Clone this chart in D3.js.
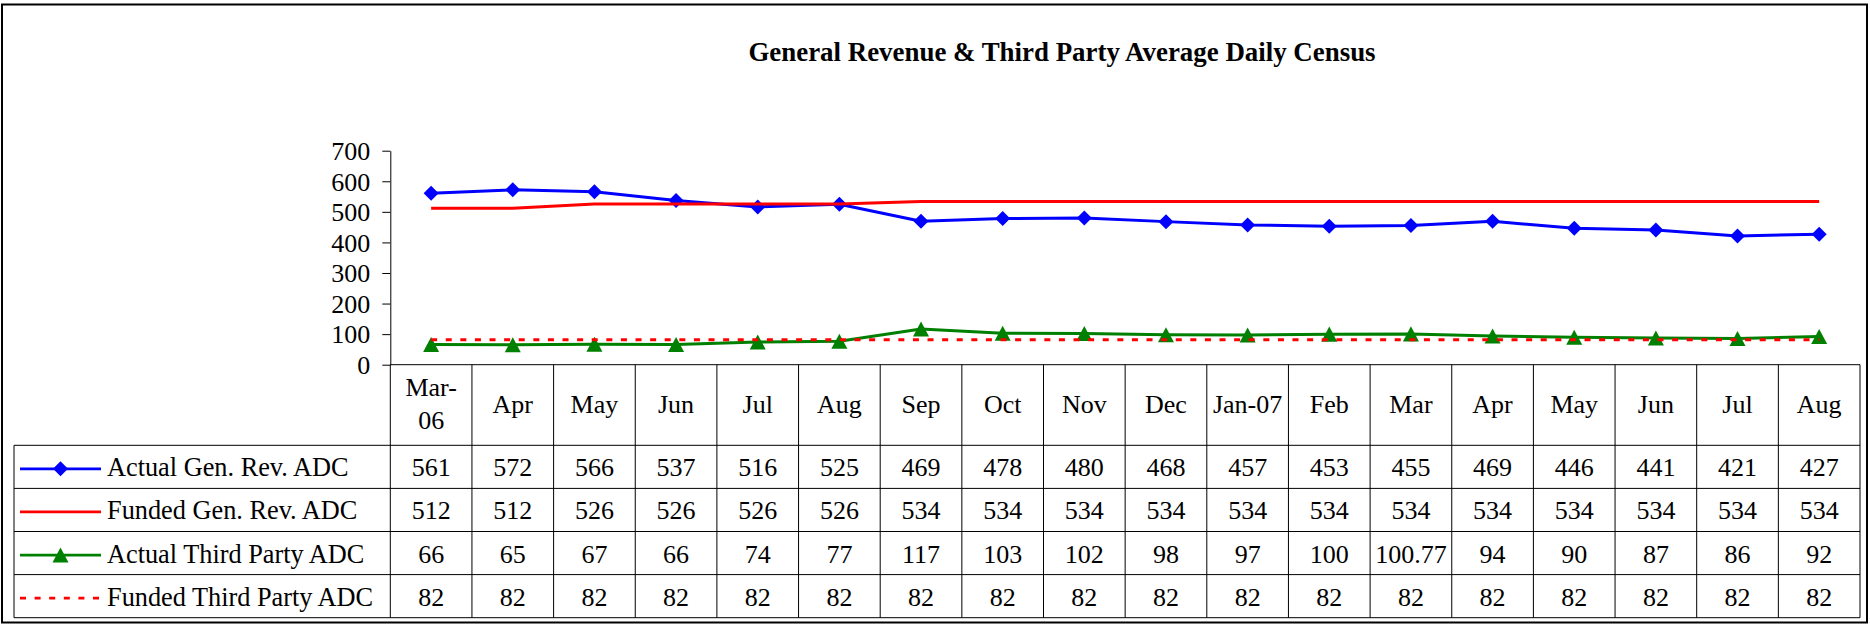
<!DOCTYPE html>
<html><head><meta charset="utf-8">
<script src="https://cdn.jsdelivr.net/npm/d3@7"></script>
<style>
body{margin:0;background:#fff}
svg{display:block}
text{font-family:"Liberation Serif","Times New Roman",serif;fill:#000}
</style>
</head><body>
<svg id="c" width="1870" height="624"></svg>
<script>
// ---- data ----
const chartTitle = "General Revenue & Third Party Average Daily Census";
const categories = ["Mar-06","Apr","May","Jun","Jul","Aug","Sep","Oct","Nov","Dec","Jan-07","Feb","Mar","Apr","May","Jun","Jul","Aug"];
const seriesNames = ["Actual Gen. Rev. ADC","Funded Gen. Rev. ADC","Actual Third Party ADC","Funded Third Party ADC"];
const actualGenRev = [561,572,566,537,516,525,469,478,480,468,457,453,455,469,446,441,421,427];
const fundedGenRev = [512,512,526,526,526,526,534,534,534,534,534,534,534,534,534,534,534,534];
const actualThirdParty = [66,65,67,66,74,77,117,103,102,98,97,100,100.77,94,90,87,86,92];
const fundedThirdParty = [82,82,82,82,82,82,82,82,82,82,82,82,82,82,82,82,82,82];
const yTickValues = [0,100,200,300,400,500,600,700];

const seriesData = [actualGenRev, fundedGenRev, actualThirdParty, fundedThirdParty];
const seriesColor = ["#0000ff","#ff0000","#008000","#ff0000"];
const seriesDash = [null, null, null, "6,8.6"];
const seriesMarker = ["diamond", null, "triangle", null];

// ---- layout ----
const svg = d3.select("#c");
const plotLeft = 390.3, plotRight = 1860, yTop = 150.7, yBot = 364.7;
const headerBot = 445.3, tableBot = 617.7, legendLeft = 14;

svg.append("rect").attr("x",2).attr("y",4.5).attr("width",1865).attr("height",618)
  .attr("fill","#fff").attr("stroke","#000").attr("stroke-width",2);

svg.append("text").attr("x",1062).attr("y",61).attr("text-anchor","middle")
  .style("font-size","26.9px").style("font-weight","bold").text(chartTitle);

const x = d3.scaleBand().domain(d3.range(categories.length)).range([plotLeft, plotRight]);
const y = d3.scaleLinear().domain([0,700]).range([yBot, yTop]);
const rowY = d3.scaleBand().domain(d3.range(seriesNames.length)).range([headerBot, tableBot]);
const cx = i => x(i) + x.bandwidth()/2;

// y axis
const yAxis = d3.axisLeft(y).tickValues(yTickValues).tickSize(8).tickSizeOuter(0).tickPadding(12);
const ga = svg.append("g").attr("transform",`translate(${plotLeft},0)`).call(yAxis);
ga.selectAll("text").style("font-size","26px").attr("dy","0.34em");
ga.selectAll("line,path").attr("stroke","#000").attr("stroke-width",1);
ga.attr("font-family",null).attr("font-size",null);

// table grid
const grid = svg.append("g").attr("stroke","#000").attr("stroke-width",1).attr("fill","none");
grid.append("line").attr("x1",plotLeft).attr("x2",plotRight).attr("y1",yBot).attr("y2",yBot);
[headerBot, ...rowY.domain().map(i => rowY(i) + rowY.bandwidth())].forEach(v => {
  grid.append("line").attr("x1",legendLeft).attr("x2",plotRight).attr("y1",v).attr("y2",v);
});
grid.append("line").attr("x1",plotLeft).attr("x2",plotLeft).attr("y1",yBot).attr("y2",tableBot);
x.domain().forEach(i => {
  const xr = x(i) + x.bandwidth();
  grid.append("line").attr("x1",xr).attr("x2",xr).attr("y1",yBot).attr("y2",tableBot);
});
grid.append("line").attr("x1",legendLeft).attr("x2",legendLeft).attr("y1",headerBot).attr("y2",tableBot);

// header labels
const headerMid = (yBot + headerBot)/2;
categories.forEach((c,i) => {
  const t = svg.append("text").attr("text-anchor","middle").style("font-size","26px")
    .attr("x",cx(i)).attr("y",headerMid + 8).text(c);
  if (t.node().getComputedTextLength() > x.bandwidth() - 6 && c.includes("-")) {
    const k = c.indexOf("-") + 1;
    t.text(null);
    t.append("tspan").attr("x",cx(i)).attr("y",headerMid - 9).text(c.slice(0,k));
    t.append("tspan").attr("x",cx(i)).attr("y",headerMid + 23.7).text(c.slice(k));
  }
});

// markers
const diamondType = {draw(ctx,size){const r=Math.sqrt(size)/2;ctx.moveTo(0,-r);ctx.lineTo(r,0);ctx.lineTo(0,r);ctx.lineTo(-r,0);ctx.closePath();}};
const triangleType = {draw(ctx,size){const w=Math.sqrt(size);const h=w*0.94;ctx.moveTo(0,-h/2);ctx.lineTo(w/2,h/2);ctx.lineTo(-w/2,h/2);ctx.closePath();}};
const markerPath = {
  diamond: d3.symbol().type(diamondType).size(15*15),
  triangle: d3.symbol().type(triangleType).size(16*16)
};

// series
const line = d3.line().x((d,i) => cx(i)).y(d => y(d));
seriesData.forEach((data,s) => {
  const g = svg.append("g");
  g.append("path").datum(data).attr("d",line).attr("fill","none")
    .attr("stroke",seriesColor[s]).attr("stroke-width",3)
    .attr("stroke-dasharray",seriesDash[s]).attr("stroke-linejoin","round");
  if (seriesMarker[s]) {
    g.selectAll("path.m").data(data).join("path").attr("class","m")
      .attr("transform",(d,i) => `translate(${cx(i)},${y(d)})`)
      .attr("d",markerPath[seriesMarker[s]]()).attr("fill",seriesColor[s]);
  }
});

// legend + values
seriesNames.forEach((name,s) => {
  const rc = rowY(s) + rowY.bandwidth()/2;
  const ly = rc + 2;
  svg.append("line").attr("x1",20).attr("x2",101).attr("y1",ly).attr("y2",ly)
    .attr("stroke",seriesColor[s]).attr("stroke-width",2.75).attr("stroke-dasharray",seriesDash[s]);
  if (seriesMarker[s]) {
    svg.append("path").attr("transform",`translate(60.5,${ly})`)
      .attr("d",markerPath[seriesMarker[s]]()).attr("fill",seriesColor[s]);
  }
  svg.append("text").attr("x",107).attr("y",rc + 9.5).style("font-size","26.3px").text(name);
  seriesData[s].forEach((v,i) => {
    svg.append("text").attr("x",cx(i)).attr("y",rc + 9.5).attr("text-anchor","middle")
      .style("font-size","26px").text(v);
  });
});
</script>
</body></html>
